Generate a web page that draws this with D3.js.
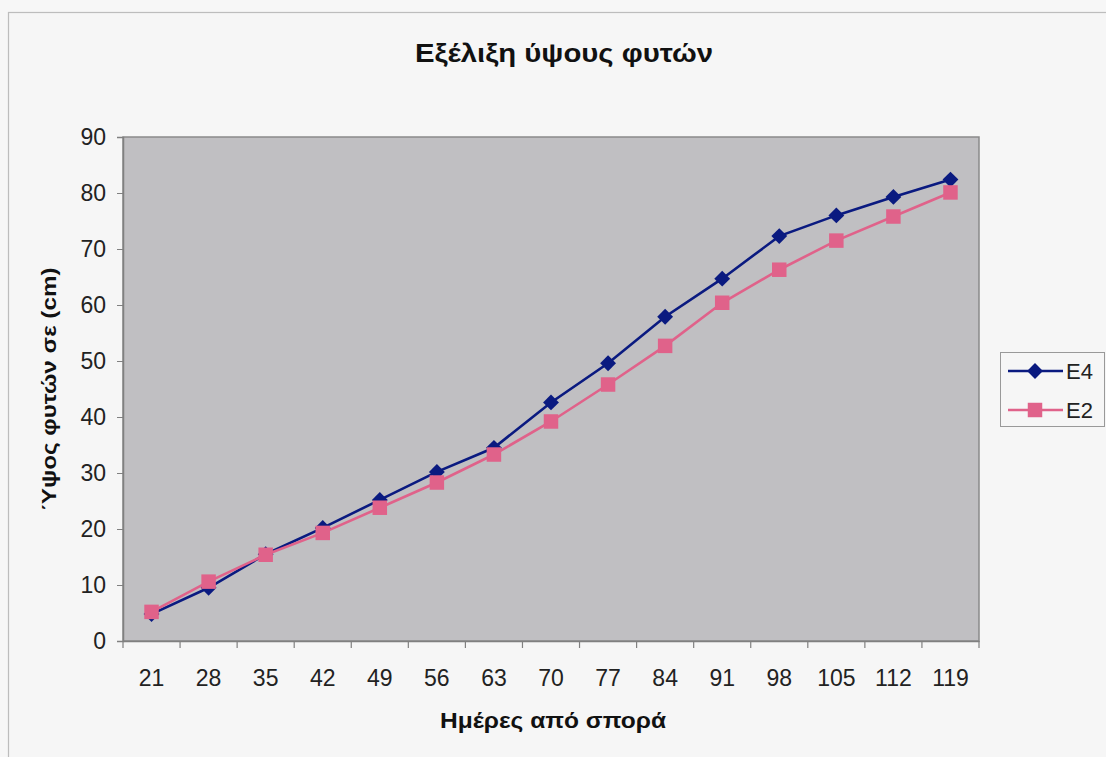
<!DOCTYPE html>
<html><head><meta charset="utf-8">
<script src="https://cdn.jsdelivr.net/npm/d3@7"></script>
<style>
html,body{margin:0;padding:0;background:#f7f7f7;}
svg{display:block;font-family:"Liberation Sans",Arial,sans-serif;}
</style></head><body>
<script>
const days = ["21","28","35","42","49","56","63","70","77","84","91","98","105","112","119"];
const E4 = [4.8, 9.5, 15.5, 20.2, 25.2, 30.2, 34.5, 42.6, 49.6, 57.9, 64.7, 72.3, 76.0, 79.3, 82.4];
const E2 = [5.2, 10.6, 15.4, 19.3, 23.8, 28.3, 33.3, 39.2, 45.8, 52.7, 60.4, 66.3, 71.5, 75.8, 80.1];
const yTicks = [0,10,20,30,40,50,60,70,80,90];
const seriesNames = ["E4","E2"];
const title = "Εξέλιξη ύψους φυτών";
const xTitle = "Ημέρες από σπορά";
const yTitle = "Ύψος φυτών σε (cm)";

const W = 1106, H = 757;
const svg = d3.select("body").append("svg").attr("width", W).attr("height", H);

svg.append("rect").attr("x", 8.5).attr("y", 12.5).attr("width", W).attr("height", H)
  .attr("fill", "#f6f6f6").attr("stroke", "#bdbdbd").attr("stroke-width", 1.2);

const plot = {left: 123, right: 979, top: 137, bottom: 641};
const x = d3.scaleBand().domain(days).range([plot.left, plot.right]).padding(0);
const y = d3.scaleLinear().domain([0, 90]).range([plot.bottom, plot.top]);

svg.append("rect").attr("x", plot.left).attr("y", plot.top)
  .attr("width", plot.right - plot.left).attr("height", plot.bottom - plot.top)
  .attr("fill", "#c0bfc2").attr("stroke", "#8a8a8a").attr("stroke-width", 1.5);

// Y axis
const yAxis = svg.append("g").attr("transform", `translate(${plot.left},0)`)
  .call(d3.axisLeft(y).tickValues(yTicks).tickSize(6).tickPadding(11));
yAxis.select(".domain").attr("stroke", "#808080").attr("stroke-width", 1.5);
yAxis.selectAll(".tick line").attr("stroke", "#808080");
yAxis.selectAll("text").attr("font-size", 23).attr("fill", "#222")
  .attr("font-family", "Liberation Sans, Arial, sans-serif");

// X axis
const xAxis = svg.append("g").attr("transform", `translate(0,${plot.bottom})`)
  .call(d3.axisBottom(x).tickSize(0).tickPadding(29));
xAxis.select(".domain").attr("stroke", "#808080").attr("stroke-width", 1.5);
xAxis.selectAll("text").attr("font-size", 23).attr("fill", "#222")
  .attr("font-family", "Liberation Sans, Arial, sans-serif");
// tick marks between categories
const bounds = days.map(d => x(d)).concat([x(days[days.length-1]) + x.bandwidth()]);
svg.append("g").selectAll("line").data(bounds).join("line")
  .attr("x1", d => d).attr("x2", d => d)
  .attr("y1", plot.bottom).attr("y2", plot.bottom + 7)
  .attr("stroke", "#808080").attr("stroke-width", 1.2);

const cx = d => x(d) + x.bandwidth() / 2;
const colors = {E4: "#0a1a80", E2: "#e0628a"};
const line = d3.line().x((d, i) => cx(days[i])).y(d => y(d));

svg.append("path").datum(E4).attr("d", line).attr("fill", "none")
  .attr("stroke", colors.E4).attr("stroke-width", 2.6);
svg.append("path").datum(E2).attr("d", line).attr("fill", "none")
  .attr("stroke", colors.E2).attr("stroke-width", 2.6);

const diamond = d3.symbol().type(d3.symbolDiamond2).size(160);
const square = d3.symbol().type(d3.symbolSquare).size(210);

svg.append("g").selectAll("path").data(E4).join("path")
  .attr("d", diamond)
  .attr("transform", (d, i) => `translate(${cx(days[i])},${y(d)})`)
  .attr("fill", colors.E4);
svg.append("g").selectAll("path").data(E2).join("path")
  .attr("d", square)
  .attr("transform", (d, i) => `translate(${cx(days[i])},${y(d)})`)
  .attr("fill", colors.E2);

// Titles
svg.append("text").attr("x", 564).attr("y", 62).attr("text-anchor", "middle")
  .attr("font-size", 25).attr("font-weight", "bold").attr("fill", "#111")
  .attr("textLength", 298).attr("lengthAdjust", "spacingAndGlyphs").text(title);
svg.append("text").attr("x", 553).attr("y", 728).attr("text-anchor", "middle")
  .attr("font-size", 22).attr("font-weight", "bold").attr("fill", "#111")
  .attr("textLength", 226).attr("lengthAdjust", "spacingAndGlyphs").text(xTitle);
svg.append("text").attr("transform", "translate(56,389) rotate(-90)").attr("text-anchor", "middle")
  .attr("font-size", 21).attr("font-weight", "bold").attr("fill", "#111")
  .attr("textLength", 243).attr("lengthAdjust", "spacingAndGlyphs").text(yTitle);

// Legend
const lg = svg.append("g");
lg.append("rect").attr("x", 1000.5).attr("y", 352.5).attr("width", 104).attr("height", 74)
  .attr("fill", "#f6f6f6").attr("stroke", "#999").attr("stroke-width", 1);
const legendItems = [{name: seriesNames[0], sym: diamond, c: colors.E4, yy: 371},
                     {name: seriesNames[1], sym: square, c: colors.E2, yy: 410}];
legendItems.forEach(it => {
  lg.append("line").attr("x1", 1008).attr("x2", 1063).attr("y1", it.yy).attr("y2", it.yy)
    .attr("stroke", it.c).attr("stroke-width", 2.6);
  lg.append("path").attr("d", it.sym).attr("transform", `translate(1035,${it.yy})`).attr("fill", it.c);
  lg.append("text").attr("x", 1066).attr("y", it.yy + 8).attr("font-size", 22)
    .attr("fill", "#222").text(it.name);
});
</script>
</body></html>
